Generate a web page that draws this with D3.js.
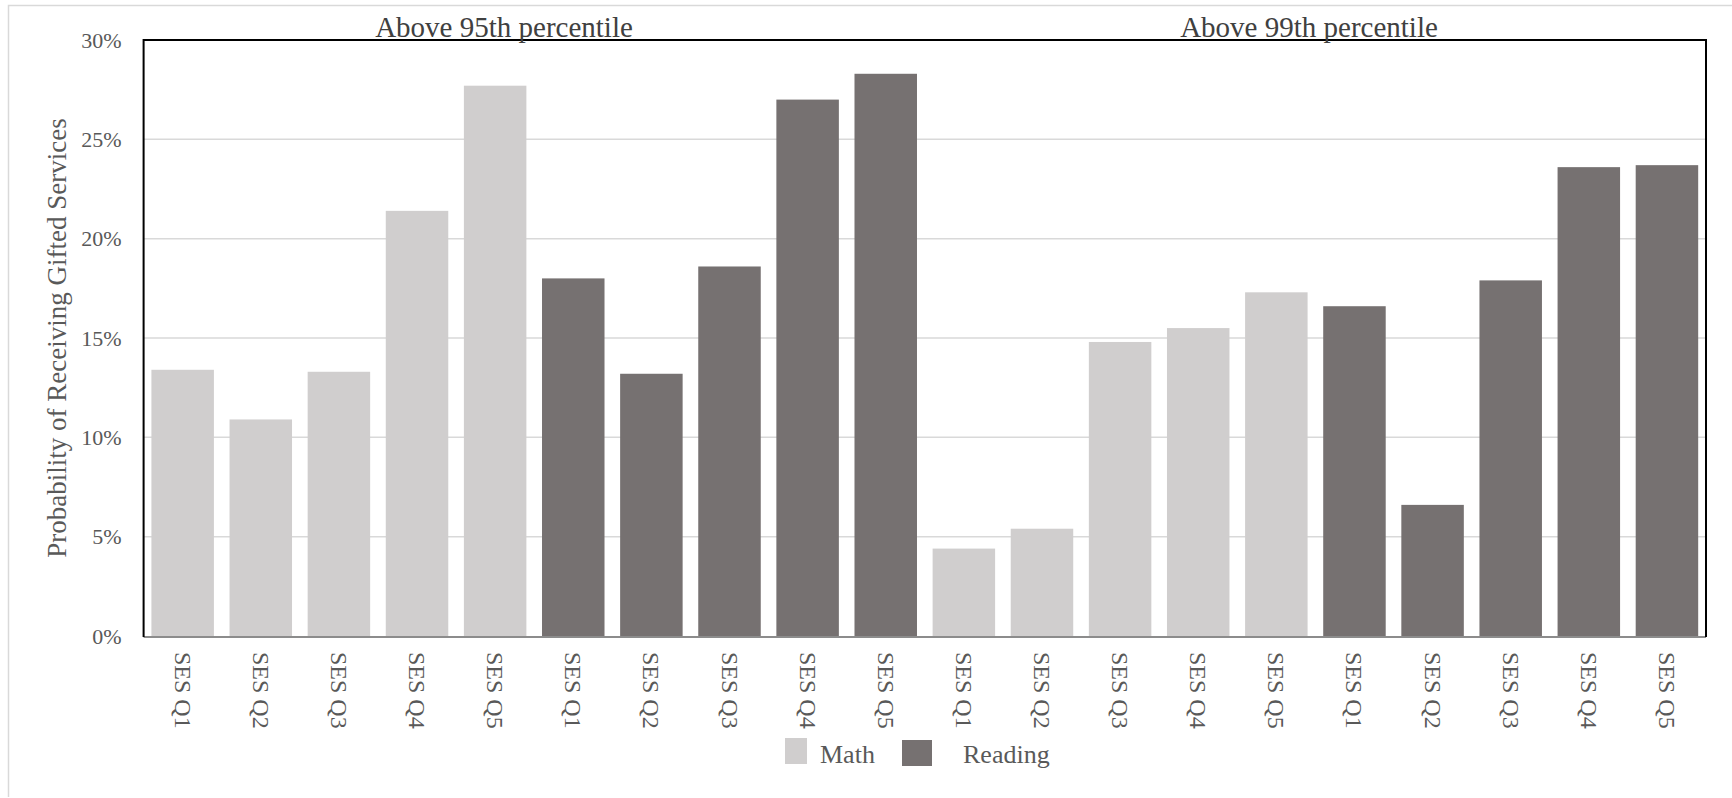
<!DOCTYPE html>
<html>
<head>
<meta charset="utf-8">
<script src="https://cdn.jsdelivr.net/npm/d3@7"></script>
<style>
  html, body { margin: 0; padding: 0; background: #fff; }
  svg { display: block; }
  svg text { font-family: "Liberation Serif", "Times New Roman", serif !important; }
</style>
</head>
<body>
<svg id="chart" width="1732" height="798"></svg>
<script>
// ---- data ----
const quintiles = ["SES Q1", "SES Q2", "SES Q3", "SES Q4", "SES Q5"];
const groups = ["Above 95th percentile", "Above 99th percentile"];
const subjects = ["Math", "Reading"];
const math95 = [0.134, 0.109, 0.133, 0.214, 0.277];
const reading95 = [0.180, 0.132, 0.186, 0.270, 0.283];
const math99 = [0.044, 0.054, 0.148, 0.155, 0.173];
const reading99 = [0.166, 0.066, 0.179, 0.236, 0.237];
const yTicks = [0, 0.05, 0.10, 0.15, 0.20, 0.25, 0.30];
const yTitle = "Probability of Receiving Gifted Services";

const colors = { Math: "#d0cece", Reading: "#767171" };
const FONT = "'Liberation Serif', 'Times New Roman', serif";

// build rows
const series = [
  { group: 0, subject: "Math", values: math95 },
  { group: 0, subject: "Reading", values: reading95 },
  { group: 1, subject: "Math", values: math99 },
  { group: 1, subject: "Reading", values: reading99 }
];
const rows = [];
series.forEach(s => s.values.forEach((v, i) => rows.push({
  key: rows.length, label: quintiles[i], subject: s.subject, group: s.group, value: v
})));

const svg = d3.select("#chart").attr("font-family", FONT);
const L = 143.6, R = 1706, T = 40, B = 636;

// outer frame
svg.append("path")
  .attr("d", `M8.5,797 L8.5,5.5 L1740,5.5`)
  .attr("fill", "none").attr("stroke", "#d9d9d9").attr("stroke-width", 1.5);

const x = d3.scaleBand().domain(rows.map(d => d.key)).range([L, R])
  .paddingInner(0.2).paddingOuter(0.1);
const y = d3.scaleLinear().domain([0, 0.30]).range([B, T]);

// gridlines
svg.append("g").selectAll("line")
  .data(yTicks.filter(t => t > 0 && t < 0.30))
  .join("line")
  .attr("x1", L).attr("x2", R)
  .attr("y1", d => y(d)).attr("y2", d => y(d))
  .attr("stroke", "#d9d9d9").attr("stroke-width", 1.5);

// bars
svg.append("g").selectAll("rect")
  .data(rows).join("rect")
  .attr("x", d => x(d.key))
  .attr("width", x.bandwidth())
  .attr("y", d => y(d.value))
  .attr("height", d => y(0) - y(d.value))
  .attr("fill", d => colors[d.subject]);

// y axis tick labels
const yAxis = d3.axisLeft(y).tickValues(yTicks).tickFormat(d3.format(".0%")).tickSize(0).tickPadding(22);
const ya = svg.append("g").attr("transform", `translate(${L},0)`).call(yAxis)
  .attr("font-family", FONT).attr("font-size", 22);
ya.select(".domain").remove();
ya.selectAll("text").attr("fill", "#595959");

// x axis labels
const xAxis = d3.axisBottom(x).tickFormat(k => rows[k].label).tickSize(0);
const xa = svg.append("g").attr("transform", `translate(0,${B})`).call(xAxis)
  .attr("font-family", FONT).attr("font-size", 24);
xa.select(".domain").remove();
xa.selectAll("text")
  .attr("fill", "#595959")
  .attr("text-anchor", "start")
  .attr("dy", null)
  .attr("y", 0)
  .attr("dominant-baseline", "central")
  .attr("transform", "translate(0,16) rotate(90)");

// bottom axis line
svg.append("line").attr("x1", L).attr("x2", R).attr("y1", B + 1).attr("y2", B + 1)
  .attr("stroke", "#8c8c8c").attr("stroke-width", 2);

// plot frame (top, left, right)
svg.append("path")
  .attr("d", `M${L},${B + 1} L${L},${T} L${R},${T} L${R},${B + 1}`)
  .attr("fill", "none").attr("stroke", "#000").attr("stroke-width", 2);

// group titles
const titleX = [504, 1309];
svg.append("g").selectAll("text").data(groups).join("text")
  .attr("x", (d, i) => titleX[i]).attr("y", 37)
  .attr("text-anchor", "middle").attr("font-size", 29).attr("fill", "#404040")
  .text(d => d);

// y title
svg.append("text")
  .attr("transform", "translate(66,338) rotate(-90)")
  .attr("text-anchor", "middle").attr("font-size", 27).attr("fill", "#595959")
  .text(yTitle);

// legend
const legend = [
  { name: subjects[0], sx: 785, sy: 738, sw: 22, tx: 820 },
  { name: subjects[1], sx: 902, sy: 740, sw: 30, tx: 963 }
];
const lg = svg.append("g");
lg.selectAll("rect").data(legend).join("rect")
  .attr("x", d => d.sx).attr("y", d => d.sy).attr("width", d => d.sw).attr("height", 26)
  .attr("fill", d => colors[d.name]);
lg.selectAll("text").data(legend).join("text")
  .attr("x", d => d.tx).attr("y", 763)
  .attr("font-size", 26).attr("fill", "#595959")
  .text(d => d.name);
</script>
</body>
</html>
